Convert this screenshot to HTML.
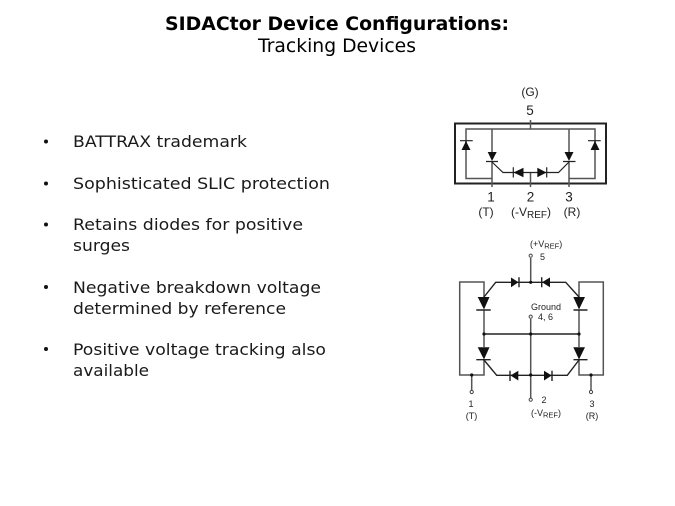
<!DOCTYPE html>
<html><head><meta charset="utf-8"><style>
html,body{margin:0;padding:0;background:#fff;width:675px;height:506px;overflow:hidden}
svg{display:block}
.t{font-family:"DejaVu Sans",sans-serif;fill:#000}
.b{font-family:"DejaVu Sans",sans-serif;font-size:16px;fill:#1a1a1a}
.a{font-family:"Liberation Sans",sans-serif;fill:#222}
.s{font-size:13.5px}.m{font-size:12px}.x{font-size:9px}
</style></head><body>
<svg width="675" height="506" viewBox="0 0 675 506" xmlns="http://www.w3.org/2000/svg">
<text class="t" x="165" y="30" font-size="19" font-weight="bold" textLength="344" lengthAdjust="spacingAndGlyphs">SIDACtor Device Configurations:</text>
<text class="t" x="258" y="52" font-size="19" textLength="158" lengthAdjust="spacingAndGlyphs">Tracking Devices</text>

<g fill="#111"><circle cx="46" cy="141.5" r="2"/><circle cx="46" cy="183.5" r="2"/><circle cx="46" cy="224.5" r="2"/><circle cx="46" cy="287" r="2"/><circle cx="46" cy="349" r="2"/></g>
<text class="b" x="73" y="147" textLength="174" lengthAdjust="spacingAndGlyphs">BATTRAX trademark</text>
<text class="b" x="73" y="189" textLength="257" lengthAdjust="spacingAndGlyphs">Sophisticated SLIC protection</text>
<text class="b" x="73" y="230" textLength="230" lengthAdjust="spacingAndGlyphs">Retains diodes for positive</text>
<text class="b" x="73" y="251" textLength="57" lengthAdjust="spacingAndGlyphs">surges</text>
<text class="b" x="73" y="293" textLength="248" lengthAdjust="spacingAndGlyphs">Negative breakdown voltage</text>
<text class="b" x="73" y="314" textLength="213" lengthAdjust="spacingAndGlyphs">determined by reference</text>
<text class="b" x="73" y="355" textLength="253" lengthAdjust="spacingAndGlyphs">Positive voltage tracking also</text>
<text class="b" x="73" y="376" textLength="76" lengthAdjust="spacingAndGlyphs">available</text>

<!-- top diagram -->
<rect x="455" y="123.5" width="151" height="60" fill="none" stroke="#222" stroke-width="2"/>
<g fill="none" stroke="#555" stroke-width="1.5">
<path d="M466 150V129H595V150"/>
<path d="M466 141V178.5H492"/>
<path d="M595 141V178.5H569"/>
<path d="M492 129V152M569 129V152"/>
<path d="M492 162V187M569 162V187"/>
<path d="M530.5 120V129M530.5 172.5V187"/>
</g>
<g fill="none" stroke="#222" stroke-width="1.2">
<path d="M460 140.7H472.7M588 140.7H600.7M486 161.5H498M563 161.5H575.5"/>
<path d="M492 162L503 172.5H558.5L569 162"/>
<path d="M513.3 167.3V177.5M546.7 167.3V177.5"/>
</g>
<g fill="#111">
<path d="M466 141L461.5 150H470.5Z"/>
<path d="M595 141L590.5 150H599.5Z"/>
<path d="M487.7 152H496.7L492 161Z"/>
<path d="M564.5 152H573.5L569 161Z"/>
<path d="M513.5 172.5L523.5 167.8V177.2Z"/>
<path d="M546.5 172.5L537.3 167.8V177.2Z"/>
</g>
<text class="a m" x="530" y="96" text-anchor="middle">(G)</text>
<text class="a s" x="530" y="115" text-anchor="middle">5</text>
<text class="a s" x="491" y="201.5" text-anchor="middle">1</text>
<text class="a s" x="530.5" y="201.5" text-anchor="middle">2</text>
<text class="a s" x="569" y="201.5" text-anchor="middle">3</text>
<text class="a m" x="486" y="216" text-anchor="middle">(T)</text>
<text class="a m" x="511" y="216">(-V<tspan font-size="10" dy="2">REF</tspan><tspan dy="-2">)</tspan></text>
<text class="a m" x="572" y="216" text-anchor="middle">(R)</text>

<!-- bottom diagram -->
<g fill="none" stroke="#555" stroke-width="1.5">
<path d="M484 297V282H459.7V375H484V360"/>
<path d="M579 297V282H603.3V375H579V360"/>
<path d="M484 310V347M579 310V347"/>
<path d="M530.7 258V282"/>
<path d="M530.7 319V375M530.7 375V398"/>
<path d="M471.7 375V391M591 375V391"/>
</g>
<g fill="none" stroke="#222" stroke-width="1.4">
<path d="M484 297L495.7 282.3H565.7L579 297"/>
<path d="M484 334H579"/>
<path d="M484 360L496.7 375.3H567.3L579 360"/>
<path d="M476.3 310H490.7M573.5 310H587.5M476.3 359.7H490.7M573.5 359.7H587.5"/>
<path d="M519 277.3V287.3M541.7 277.3V287.3M510 370.7V381M552 370.7V381"/>
</g>
<g fill="#111">
<path d="M477.7 297H489.5L484 309.5Z"/>
<path d="M573.3 297H585L579 309.5Z"/>
<path d="M477.7 347.3H489.5L484 359.5Z"/>
<path d="M573.3 347.3H585L579 359.5Z"/>
<path d="M511 277.5V287.2L518.5 282.3Z"/>
<path d="M550 277.5V287.2L542 282.3Z"/>
<path d="M518.3 370.8V380.5L510.5 375.5Z"/>
<path d="M544 370.8V380.5L551.7 375.5Z"/>
<circle cx="530.7" cy="282.3" r="1.6"/><circle cx="484" cy="334" r="1.6"/><circle cx="530.7" cy="334" r="1.6"/><circle cx="579" cy="334" r="1.6"/>
<circle cx="471.7" cy="375" r="1.6"/><circle cx="530.7" cy="375" r="1.6"/><circle cx="591" cy="375" r="1.6"/>
</g>
<g fill="#fff" stroke="#444" stroke-width="1">
<circle cx="530.7" cy="255.7" r="1.6"/><circle cx="530.7" cy="316.7" r="1.6"/>
<circle cx="471.7" cy="392" r="1.6"/><circle cx="530.7" cy="399.7" r="1.6"/><circle cx="591" cy="392" r="1.6"/>
</g>
<text class="a x" x="530" y="247">(+V<tspan font-size="7.5" dy="1.5">REF</tspan><tspan dy="-1.5">)</tspan></text>
<text class="a x" x="540" y="260">5</text>
<text class="a x" x="531" y="310">Ground</text>
<text class="a x" x="538" y="320">4, 6</text>
<text class="a x" x="471" y="407" text-anchor="middle">1</text>
<text class="a x" x="471.5" y="419" text-anchor="middle">(T)</text>
<text class="a x" x="544" y="403" text-anchor="middle">2</text>
<text class="a x" x="531" y="416">(-V<tspan font-size="7.5" dy="1.5">REF</tspan><tspan dy="-1.5">)</tspan></text>
<text class="a x" x="592" y="407" text-anchor="middle">3</text>
<text class="a x" x="592" y="419" text-anchor="middle">(R)</text>
</svg>
</body></html>
